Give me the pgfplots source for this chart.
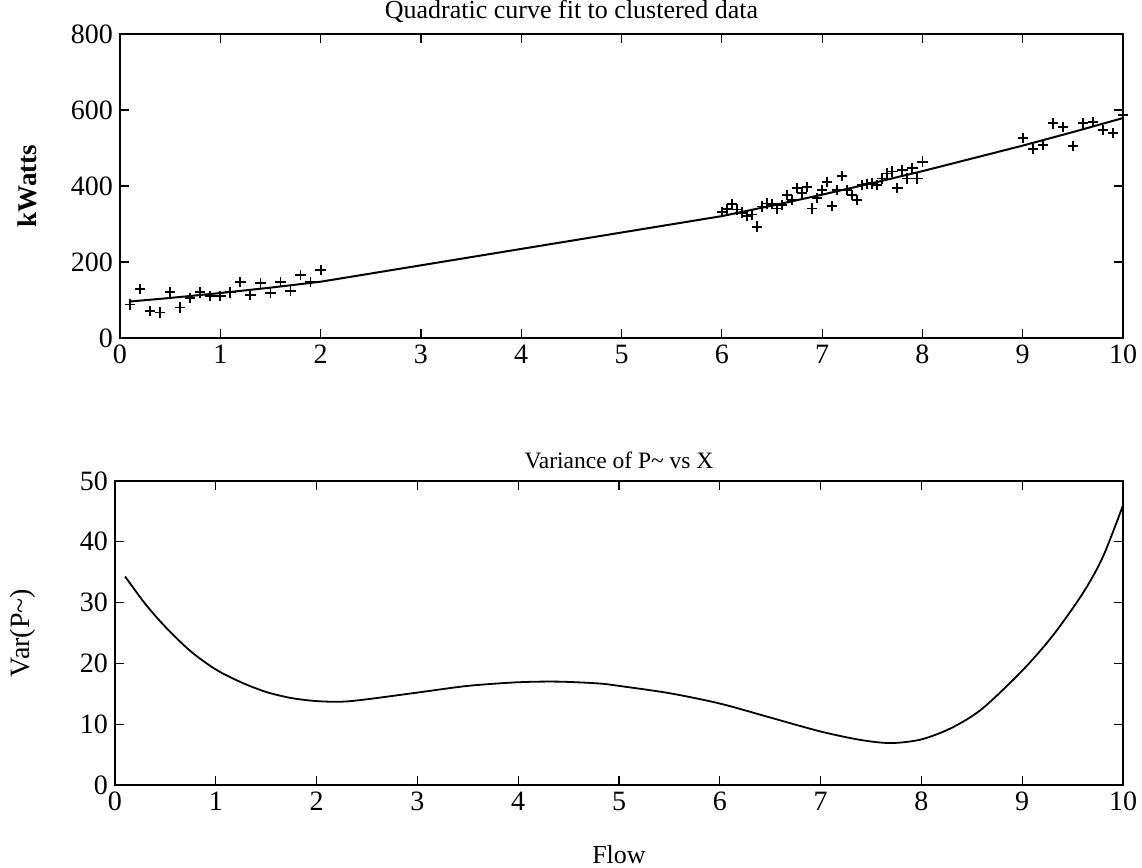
\documentclass[border=0pt]{standalone}
\usepackage{pgfplots}
\pgfplotsset{compat=1.18}
\usepackage{fontspec}
\setmainfont{Liberation Serif}

\pgfplotsset{
  matstyle/.style={
    width=501.5pt, height=152pt, scale only axis,
    xmin=0, xmax=10, xtick={0,1,...,10},
    axis line style={line width=0.6pt},
    tick style={line width=0.6pt, black},
    major tick length=4.5pt,
    /pgf/number format/assume math mode=true,
    ticklabel style={font=\fontsize{14}{14}\selectfont},
    title style={font=\fontsize{11.75}{12}\selectfont, at={(axis description cs:0.5,1)}, anchor=south, inner sep=0pt, yshift=0pt},
    ylabel style={at={(axis description cs:-0.092,0.5)}, anchor=center},
  }
}

\begin{document}
\begin{tikzpicture}
\path[use as bounding box] (0,0) rectangle (571pt,434pt);

% top: data and quadratic fit
\begin{axis}[matstyle,
    at={(60pt,265pt)}, anchor=south west,
    ymin=0, ymax=800, ytick={0,200,...,800},
    title={Quadratic curve fit to clustered data},
    title style={font=\fontsize{13}{13}\selectfont, xshift=-25pt, yshift=-0.5pt},
    ylabel={\fontsize{13.5}{14}\selectfont\bfseries kWatts},
]
\addplot[only marks, mark=+, mark size=2.6pt, line width=0.9pt, black] coordinates {
  (0.1,88) (0.2,129) (0.3,71) (0.4,67) (0.5,120) (0.6,80) (0.7,106) (0.8,120) (0.9,110) (1.0,110)
  (1.1,120) (1.2,148) (1.3,113) (1.4,144) (1.5,119) (1.6,148) (1.7,124) (1.8,166) (1.9,147) (2.0,179)
  (6.00,332) (6.05,340) (6.10,352) (6.15,338) (6.20,330) (6.25,322) (6.30,325) (6.35,293)
  (6.40,346) (6.45,354) (6.50,352) (6.55,341) (6.60,350) (6.65,376) (6.70,363) (6.75,394)
  (6.80,381) (6.85,398) (6.90,341) (6.95,368) (7.00,390) (7.05,411) (7.10,347) (7.15,390)
  (7.20,426) (7.25,390) (7.30,376) (7.35,363) (7.40,403) (7.45,405) (7.50,407) (7.55,403)
  (7.60,420) (7.65,433) (7.70,438) (7.75,394) (7.80,442) (7.85,420) (7.90,447) (7.95,420) (8.00,464)
  (9.0,527) (9.1,497) (9.2,508) (9.3,565) (9.4,556) (9.5,505) (9.6,565) (9.7,569) (9.8,547) (9.9,539) (10.0,587)
};
\addplot[black, line width=1pt] coordinates {
  (0.1,96.0) (0.5,105.4) (1.0,118.3) (1.5,132.5) (2.0,148.1)
  (6.0,320.7) (6.5,348.3) (7.0,377.2) (7.5,407.5) (8.0,439.1)
  (9.0,506.3) (9.5,541.9) (10.0,578.8)
};
\end{axis}

% bottom: variance
\begin{axis}[matstyle,
    at={(57.5pt,41.5pt)}, anchor=south west, width=504pt,
    ymin=0, ymax=50, ytick={0,10,...,50},
    title={Variance of P\textasciitilde{} vs X},
    ylabel={\fontsize{14}{14}\selectfont Var(P\textasciitilde)},
    xlabel={\fontsize{13}{13}\selectfont Flow},
    xlabel style={at={(axis description cs:0.5,0)}, anchor=center, yshift=-35pt},
]
\addplot[black, line width=0.9pt, smooth, tension=0.5] coordinates {
  (0.1,34.3) (0.3,29.8) (0.5,26.0) (0.75,22.0) (1.0,19.0) (1.25,16.9) (1.5,15.3) (1.75,14.3)
  (2.0,13.8) (2.25,13.7) (2.5,14.1) (3.0,15.2) (3.5,16.3) (4.0,16.9) (4.4,17.0) (4.8,16.7)
  (5.0,16.3) (5.5,15.1) (6.0,13.4) (6.5,11.1) (7.0,8.8) (7.4,7.4) (7.7,6.9) (8.0,7.5)
  (8.3,9.4) (8.6,12.5) (9.0,18.8) (9.3,24.5) (9.6,31.5) (9.8,37.5) (10.0,46.0)
};
\end{axis}
\end{tikzpicture}
\end{document}
